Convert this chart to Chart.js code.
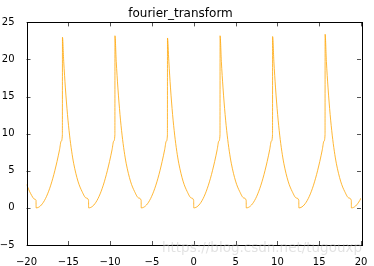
<!DOCTYPE html>
<html>
<head>
<meta charset="utf-8">
<script src="https://cdn.jsdelivr.net/npm/chart.js@4.4.7/dist/chart.umd.min.js"></script>
<style>
  html, body { margin: 0; padding: 0; background: #fff; }
  #wrap { position: relative; width: 374px; height: 266px; }
</style>
</head>
<body>
<div id="wrap"><canvas id="chart" width="374" height="266"></canvas></div>
<script>
// values
const xValues = [
  -20, -19.5, -19.0, -18.86,
  -18.85, -18.35, -17.85, -17.35, -16.85, -16.35, -16.05, -15.85, -15.71,
  -15.70, -15.55, -15.35, -15.10, -14.85, -14.60, -14.35, -13.85, -13.35, -12.85, -12.58,
  -12.57, -12.07, -11.57, -11.07, -10.57, -10.07, -9.77, -9.57, -9.43,
  -9.42, -9.27, -9.07, -8.82, -8.57, -8.32, -8.07, -7.57, -7.07, -6.57, -6.29,
  -6.28, -5.78, -5.28, -4.78, -4.28, -3.78, -3.48, -3.28, -3.15,
  -3.14, -2.98, -2.78, -2.53, -2.28, -2.03, -1.78, -1.28, -0.78, -0.28, -0.01,
  0, 0.5, 1, 1.5, 2, 2.5, 2.8, 3.0, 3.14,
  3.15, 3.3, 3.5, 3.75, 4, 4.25, 4.5, 5, 5.5, 6, 6.27,
  6.28, 6.78, 7.28, 7.78, 8.28, 8.78, 9.08, 9.28, 9.42,
  9.43, 9.58, 9.78, 10.03, 10.28, 10.53, 10.78, 11.28, 11.78, 12.28, 12.56,
  12.57, 13.07, 13.57, 14.07, 14.57, 15.07, 15.37, 15.57, 15.70,
  15.71, 15.86, 16.06, 16.31, 16.56, 16.81, 17.06, 17.56, 18.06, 18.56, 18.84,
  18.85, 19.35, 19.85, 20
];
const yValues = [
  3.16, 1.92, 1.16, 1.01,
  0, 0.25, 1, 2.25, 4, 6.25, 7.84, 9, 9.86,
  23.0, 19.75, 16.17, 12.59, 9.81, 7.64, 5.95, 3.61, 2.19, 1.33, 1.01,
  0, 0.25, 1, 2.25, 4, 6.25, 7.84, 9, 9.86,
  23.2, 19.75, 16.17, 12.59, 9.81, 7.64, 5.95, 3.61, 2.19, 1.33, 1.01,
  0, 0.25, 1, 2.25, 4, 6.25, 7.84, 9, 9.82,
  22.9, 19.75, 16.17, 12.59, 9.81, 7.64, 5.95, 3.61, 2.19, 1.33, 1.01,
  0, 0.25, 1, 2.25, 4, 6.25, 7.84, 9, 9.86,
  23.2, 19.75, 16.17, 12.59, 9.81, 7.64, 5.95, 3.61, 2.19, 1.33, 1.01,
  0, 0.25, 1, 2.25, 4, 6.25, 7.84, 9, 9.86,
  23.1, 19.75, 16.17, 12.59, 9.81, 7.64, 5.95, 3.61, 2.19, 1.33, 1.01,
  0, 0.25, 1, 2.25, 4, 6.25, 7.84, 9, 9.86,
  23.4, 19.75, 16.17, 12.59, 9.81, 7.64, 5.95, 3.61, 2.19, 1.33, 1.01,
  0, 0.25, 1, 1.32
];
const xTicks = [-20, -15, -10, -5, 0, 5, 10, 15, 20];
const yTicks = [-5, 0, 5, 10, 15, 20, 25];
const titleText = 'fourier_transform';
const watermark = 'https://blog.csdn.net/tugouxp';

const points = xValues.map((x, i) => ({ x: x, y: yValues[i] }));
const fmt = v => (v < 0 ? '\u2212' + Math.abs(v) : String(v));

// matplotlib-classic style frame with inward ticks on all four sides
const framePlugin = {
    id: 'frame',
    afterDatasetsDraw(chart) {
        const { ctx, chartArea: a, scales } = chart;
        ctx.save();
        ctx.lineWidth = 1;
        ctx.beginPath();
        xTicks.forEach(t => {
            const px = Math.round(scales.x.getPixelForValue(t)) + 0.5;
            ctx.moveTo(px, a.bottom); ctx.lineTo(px, a.bottom - 4);
            ctx.moveTo(px, a.top); ctx.lineTo(px, a.top + 4);
        });
        yTicks.forEach(t => {
            const py = Math.round(scales.y.getPixelForValue(t)) + 0.5;
            ctx.moveTo(a.left, py); ctx.lineTo(a.left + 4, py);
            ctx.moveTo(a.right, py); ctx.lineTo(a.right - 4, py);
        });
        ctx.strokeStyle = '#555';
        ctx.stroke();
        ctx.strokeStyle = '#000';
        ctx.strokeRect(Math.round(a.left) + 0.5, Math.round(a.top) + 0.5,
            Math.round(a.right - a.left), Math.round(a.bottom - a.top));
        ctx.restore();
    },
    afterDraw(chart) {
        const { ctx } = chart;
        ctx.save();
        ctx.font = '14px "DejaVu Sans"';
        ctx.fillStyle = 'rgba(190,190,190,0.45)';
        ctx.textBaseline = 'middle';
        ctx.fillText(watermark, 162, 248, 200);
        ctx.restore();
    }
};

new Chart(document.getElementById('chart'), {
    type: 'line',
    data: {
        datasets: [{
            data: points,
            borderColor: 'orange',
            borderWidth: 0.8,
            pointRadius: 0,
            fill: false,
            cubicInterpolationMode: 'monotone'
        }]
    },
    options: {
        responsive: false,
        animation: false,
        layout: { padding: { left: 0, right: 13, top: 0, bottom: 0 } },
        plugins: {
            legend: { display: false },
            tooltip: { enabled: false },
            title: {
                display: true,
                text: titleText,
                color: '#000',
                font: { family: 'DejaVu Sans', size: 12, weight: 'normal', lineHeight: 1.2 },
                padding: { top: 7, bottom: 1 }
            }
        },
        scales: {
            x: {
                type: 'linear',
                min: -20, max: 20,
                afterBuildTicks: s => { s.ticks = xTicks.map(v => ({ value: v })); },
                afterFit: s => { s.height = 21; },
                grid: { display: false },
                border: { display: false },
                ticks: {
                    color: '#000',
                    font: { family: 'DejaVu Sans', size: 10 },
                    padding: 3,
                    maxRotation: 0,
                    callback: v => fmt(v)
                }
            },
            y: {
                type: 'linear',
                min: -5, max: 25,
                afterBuildTicks: s => { s.ticks = yTicks.map(v => ({ value: v })); },
                afterFit: s => { s.width = 26.5; },
                grid: { display: false },
                border: { display: false },
                ticks: {
                    color: '#000',
                    font: { family: 'DejaVu Sans', size: 10 },
                    padding: 4,
                    callback: v => fmt(v)
                }
            }
        }
    },
    plugins: [framePlugin]
});
</script>
</body>
</html>
